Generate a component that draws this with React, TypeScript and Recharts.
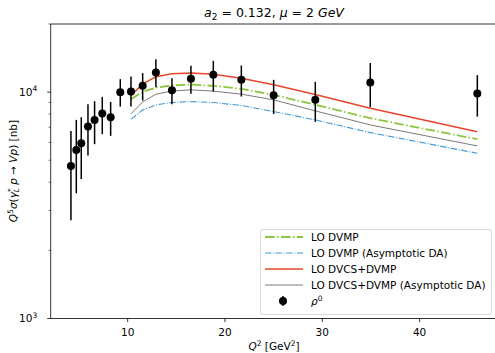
import React from "react";
import {
  ComposedChart,
  Line,
  Scatter,
  ErrorBar,
  XAxis,
  YAxis,
  ReferenceLine,
  Legend,
} from "recharts";

// rho0 measurements
const q2Data = [4.17, 4.72, 5.23, 5.92, 6.6, 7.39, 8.25, 9.24, 10.34, 11.54, 12.9, 14.55, 16.5, 18.8, 21.68, 25.0, 29.28, 34.93, 45.93];
const sigmaData = [4720, 5555, 5945, 7046, 7540, 8040, 7750, 10000, 10060, 10665, 12210, 10205, 11450, 11930, 11335, 9700, 9245, 11025, 9860];
const sigmaHi = [6740, 7540, 7750, 8850, 9125, 9530, 9060, 11415, 11720, 12140, 13990, 11530, 13070, 13750, 13110, 11335, 11105, 13440, 11890];
const sigmaLo = [2720, 3575, 4130, 5245, 5890, 6520, 6410, 8635, 8635, 9180, 10520, 8850, 9830, 10060, 9560, 8010, 7390, 8580, 7800];

// theory curves
const q2Theory = [10.34, 11.54, 12.9, 14.55, 16.5, 18.8, 21.68, 25.0, 29.28, 34.93, 45.93];
const loDvmp = [9310, 10040, 10470, 10710, 10800, 10665, 10340, 9730, 8790, 7670, 6195];
const loDvmpAsym = [7595, 8330, 8780, 9000, 9085, 8995, 8730, 8205, 7540, 6625, 5370];
const loDvcsDvmp = [9660, 10850, 11700, 12050, 12140, 12010, 11530, 10780, 9760, 8494, 6690];
const loDvcsDvmpAsym = [8015, 9060, 9790, 10110, 10240, 10100, 9800, 9245, 8265, 7165, 5785];

const xTicks = [10, 20, 30, 40];
const yTicks = [1000, 2000, 3000, 4000, 5000, 6000, 7000, 8000, 9000, 10000, 20000];
const yMajor: Record<number, string> = { 1000: "3", 10000: "4" };

const FONT = "DejaVu Sans";
const GREEN = "#8cc63e";
const BLUE = "#3f9ad8";
const RED = "#e8452c";
const GRAY = "#7a7a7a";

const points = q2Data.map((q, i) => ({
  q,
  v: sigmaData[i],
  err: [sigmaData[i] - sigmaLo[i], sigmaHi[i] - sigmaData[i]],
}));
const curve = (vals: number[]) => q2Theory.map((q, i) => ({ q, v: vals[i] }));

const XTick = (props: any) => {
  const { x, y, payload } = props;
  return (
    <g>
      <line x1={x} x2={x} y1={y} y2={y + 3.5} stroke="#000" strokeWidth={0.8} />
      <text x={x} y={y + 17.3} textAnchor="middle" fontSize={10.5} fontFamily={FONT} fill="#000">
        {payload.value}
      </text>
    </g>
  );
};

const YTick = (props: any) => {
  const { x, y, payload } = props;
  const exp = yMajor[payload.value];
  return (
    <g>
      <line x1={x - (exp ? 3.5 : 2)} x2={x} y1={y} y2={y} stroke="#000" strokeWidth={exp ? 0.8 : 0.6} />
      {exp && (
        <text x={x - 13.5} y={y + 3.8} textAnchor="end" fontSize={10.5} fontFamily={FONT} fill="#000">
          10<tspan dy={-4.5} fontSize={7.5}>{exp}</tspan>
        </text>
      )}
    </g>
  );
};

const YLabel = (props: any) => {
  const { viewBox } = props;
  const cx = viewBox.x + 16;
  const cy = 171;
  return (
    <text
      x={cx}
      y={cy}
      transform={`rotate(-90, ${cx}, ${cy})`}
      textAnchor="middle"
      fontSize={10.5}
      fontFamily={FONT}
      fill="#000"
    >
      <tspan fontStyle="italic">Q</tspan>
      <tspan dy={-4} fontSize={7.5}>5</tspan>
      <tspan dy={4} fontStyle="italic">σ</tspan>
      <tspan>(</tspan>
      <tspan fontStyle="italic">γ</tspan>
      <tspan dy={-4} fontSize={7.5}>*</tspan>
      <tspan dx={-4} dy={6.5} fontSize={7.5} fontStyle="italic">L</tspan>
      <tspan dy={-2.5} fontStyle="italic">{" p"}</tspan>
      <tspan>{" → "}</tspan>
      <tspan fontStyle="italic">Vp</tspan>
      <tspan>{") [nb]"}</tspan>
    </text>
  );
};

const XLabel = () => (
  <text x={274} y={349.5} textAnchor="middle" fontSize={10.5} fontFamily={FONT} fill="#000">
    <tspan fontStyle="italic">Q</tspan>
    <tspan dy={-4} fontSize={7.5}>2</tspan>
    <tspan dy={4}>{" [GeV"}</tspan>
    <tspan dy={-4} fontSize={7.5}>2</tspan>
    <tspan dy={4}>]</tspan>
  </text>
);

const legendRows = [
  { label: "LO DVMP", color: GREEN, dash: "9.6 2.4 1.5 2.4", width: 1.8 },
  { label: "LO DVMP (Asymptotic DA)", color: BLUE, dash: "6.4 1.6 1 1.6", width: 1.1 },
  { label: "LO DVCS+DVMP", color: RED, dash: undefined, width: 1.5 },
  { label: "LO DVCS+DVMP (Asymptotic DA)", color: GRAY, dash: undefined, width: 1 },
];

const LegendBox = () => (
  <svg width={233} height={87} style={{ display: "block" }}>
    <rect x={0.5} y={0.5} width={231} height={85} rx={2.5} fill="#fff" fillOpacity={0.8} stroke="#d0d0d0" strokeWidth={0.8} />
    {legendRows.map((r, i) => {
      const cy = 8 + i * 16;
      return (
        <g key={r.label}>
          <line x1={5} x2={43} y1={cy} y2={cy} stroke={r.color} strokeWidth={r.width} strokeDasharray={r.dash} />
          <text x={51} y={cy + 3.8} fontSize={10.5} fontFamily={FONT} fill="#000">
            {r.label}
          </text>
        </g>
      );
    })}
    <line x1={23} x2={23} y1={67} y2={77} stroke="#000" strokeWidth={1.5} />
    <circle cx={23} cy={72} r={4} fill="#000" />
    <text x={51} y={75.5} fontSize={10.5} fontFamily={FONT} fill="#000">
      <tspan fontStyle="italic">ρ</tspan>
      <tspan dy={-4} fontSize={7.5}>0</tspan>
    </text>
  </svg>
);

const Dot = (props: any) => <circle cx={props.cx} cy={props.cy} r={4} fill="#000" />;

export default function App() {
  return (
    <div style={{ position: "absolute", left: 0, top: 0, width: 495, height: 353, overflow: "hidden", background: "#fff" }}>
      <svg width={495} height={24} style={{ position: "absolute", left: 0, top: 0 }}>
        <text x={274} y={17.3} textAnchor="middle" fontSize={12.5} fontFamily={FONT} fill="#000">
          <tspan fontStyle="italic">a</tspan>
          <tspan dy={2.5} fontSize={9}>2</tspan>
          <tspan dy={-2.5}>{" = 0.132, "}</tspan>
          <tspan fontStyle="italic">μ</tspan>
          <tspan>{" = 2 "}</tspan>
          <tspan fontStyle="italic">GeV</tspan>
        </text>
      </svg>
      <ComposedChart width={510} height={353} margin={{ top: 24, right: 10, bottom: 4.5, left: 0.7 }}>
        <XAxis
          type="number"
          dataKey="q"
          domain={[2.09, 48.26]}
          allowDataOverflow
          ticks={xTicks}
          interval={0}
          tick={<XTick />}
          tickSize={0}
          tickMargin={0}
          tickLine={false}
          axisLine={{ stroke: "#000", strokeWidth: 0.8 }}
          height={30}
          label={<XLabel />}
        />
        <YAxis
          type="number"
          scale="log"
          domain={[1000, 20000]}
          allowDataOverflow
          ticks={yTicks}
          interval={0}
          tick={<YTick />}
          tickSize={0}
          tickMargin={0}
          tickLine={false}
          axisLine={{ stroke: "#000", strokeWidth: 0.8 }}
          width={50}
          label={<YLabel />}
        />
        <ReferenceLine y={20000} stroke="#000" strokeWidth={0.8} />
        <Line data={curve(loDvmp)} dataKey="v" stroke={GREEN} strokeWidth={1.8} strokeDasharray="9.6 2.4 1.5 2.4" dot={false} isAnimationActive={false} />
        <Line data={curve(loDvmpAsym)} dataKey="v" stroke={BLUE} strokeWidth={1.1} strokeDasharray="6.4 1.6 1 1.6" dot={false} isAnimationActive={false} />
        <Line data={curve(loDvcsDvmp)} dataKey="v" stroke={RED} strokeWidth={1.5} dot={false} isAnimationActive={false} />
        <Line data={curve(loDvcsDvmpAsym)} dataKey="v" stroke={GRAY} strokeWidth={1} dot={false} isAnimationActive={false} />
        <Scatter data={points} dataKey="v" shape={<Dot />} isAnimationActive={false}>
          <ErrorBar dataKey="err" direction="y" width={0} stroke="#000" strokeWidth={1.5} isAnimationActive={false} />
        </Scatter>
        <Legend
          layout="vertical"
          align="center"
          verticalAlign="middle"
          content={<LegendBox />}
          wrapperStyle={{ left: 260, top: 229, width: 233, height: 87, right: "auto", bottom: "auto" }}
        />
      </ComposedChart>
    </div>
  );
}
